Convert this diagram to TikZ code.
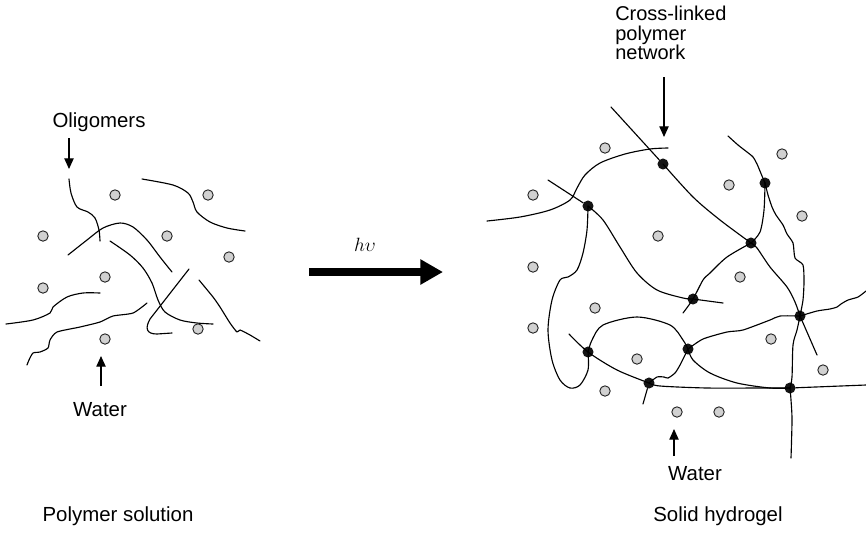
\documentclass[tikz,border=0pt]{standalone}
\usepackage{fontspec}
\setmainfont{Liberation Sans}
\usetikzlibrary{arrows.meta,positioning}
\tikzstyle{water} = [circle, draw=black!85, fill=black!18, line width=0.7pt, minimum size=7.8pt, inner sep=0pt]
\tikzstyle{link} = [circle, fill=black!92, minimum size=8.3pt, inner sep=0pt]
\tikzstyle{chain} = [line width=0.85pt, line join=round, line cap=round]
\tikzstyle{pointer} = [line width=0.9pt, -{Triangle[length=8pt, width=7pt]}]
\tikzstyle{caption} = [font=\fontsize{15.3}{18}\selectfont, inner sep=0pt]
\tikzstyle{bigarrow} = [line width=6pt, -{Triangle[length=17pt, width=18pt]}]

\begin{document}
\begin{tikzpicture}[x=0.75pt, y=-0.75pt]
\useasboundingbox (0,0) rectangle (866,544);

% POLYMERLOESUNG - Oligomere
\draw [chain] plot[smooth] coordinates {(69,179) (71,193) (77,207) (88,212) (95,218) (99,230) (100,241)};
\draw [chain] plot[smooth] coordinates {(142,179) (173,185) (188,193) (193,202) (197,212) (210,222) (227,228) (245,231)};
\draw [chain] plot[smooth] coordinates {(68,255) (87,240) (103,228) (120,223) (133,227) (147,240) (160,257) (172,272)};
\draw [chain] plot[smooth] coordinates {(110,241) (130,255) (143,268) (152,283) (158,300) (165,312) (180,320) (197,323) (213,324)};
\draw [chain] (189,269) -- (150,319) .. controls (145,328) and (146,334) .. (157,334) -- (172,333);
\draw [chain] plot[smooth, tension=0.4] coordinates {(199,280) (213,297) (220,307) (230,323) (237,332) (240,330) (250,335) (260,341)};
\draw [chain] plot[smooth] coordinates {(6,324) (33,320) (50,313) (53,307) (67,297) (83,293) (100,293)};
\draw [chain] plot[smooth, tension=0.4] coordinates {(147,303) (133,313) (113,316) (100,322) (80,327) (57,332) (50,340) (48,348) (40,352) (33,353) (29,360) (27,365)};

% Wasser links
\foreach \p [count=\i] in {(115,195),(208,195),(43,236),(167,236),(229,257),(105,277),(43,288),(198,329),(105,339)}
  \node (wl\i) [water] at \p {};

% HYDROGEL - Vernetzungspunkte
\node (A) [link] at (663,164) {};
\node (B) [link] at (588,206) {};
\node (D) [link] at (765,183) {};
\node (E) [link] at (751,243) {};
\node (F) [link] at (693,299) {};
\node (G) [link] at (588,352) {};
\node (H) [link] at (688,349) {};
\node (I) [link] at (649,383) {};
\node (J) [link] at (800,316) {};
\node (K) [link] at (790,388) {};

% Ketten im Netzwerk
\draw [chain] plot[smooth] coordinates {(487,221) (520,217) (550,210) (570,200) (577,188) (585,175) (600,163) (625,154) (650,149) (668,148)};
\draw [chain] (548,180) -- (B);
\draw [chain] (611,107) -- (A);
\draw [chain] plot[smooth] coordinates {(A) (693,197) (720,220) (E)};
\draw [chain] plot[smooth] coordinates {(E) (760,232) (764,210) (D)};
\draw [chain] plot[smooth, tension=0.4] coordinates {(728,136) (738,145) (747,152) (753,157) (757,164) (762,176) (D)};
\draw [chain] plot[smooth, tension=0.4] coordinates {(D) (768,195) (772,207) (776,215) (783,225) (787,234) (793,243) (795,258) (803,265) (804,282) (803,300) (J)};
\draw [chain] plot[smooth] coordinates {(E) (757,248) (770,267) (787,287) (795,302) (J)} -- (817,355);
\draw [chain] plot[smooth, tension=0.4] coordinates {(J) (817,311) (830,309) (837,307) (841,304) (848,300) (858,297) (866,291)};
\draw [chain] plot[smooth, tension=0.4] coordinates {(J) (780,316) (770,320) (743,330) (727,332) (703,339) (H)};
\draw [chain] plot[smooth] coordinates {(J) (797,330) (793,345) (792,377) (K)};
\draw [chain] (K) -- (866,385);
\draw [chain] plot[smooth] coordinates {(K) (791,400) (792,420) (791,458)};
\draw [chain] plot[smooth] coordinates {(I) (660,386) (707,388) (760,388) (K)};
\draw [chain] plot[smooth] coordinates {(H) (693,360) (710,373) (737,383) (770,388) (K)};
\draw [chain] plot[smooth, tension=0.4] coordinates {(I) (657,377) (664,377) (668,378) (675,373) (680,365) (H)};
\draw [chain] (I) -- (643,404);
\draw [chain] plot[smooth] coordinates {(569,334) (G) (617,370) (I)};
\draw [chain] plot[smooth] coordinates {(G) (592,340) (603,325) (637,317) (670,325) (683,340) (H)};
\draw [chain] plot[smooth] coordinates {(B) (587,230) (583,253) (577,270) (568,277) (560,280) (552,300) (548,330) (552,360) (560,380) (570,388) (580,385) (588,370) (G)};
\draw [chain] plot[smooth] coordinates {(B) (603,220) (620,247) (637,273) (657,290) (683,298) (F)} -- (723,303);
\draw [chain] plot[smooth] coordinates {(683,313) (F) (703,280) (710,273) (727,257) (E)};

% Wasser rechts
\foreach \p [count=\i] in {(605,148),(533,195),(782,154),(729,185),(802,216),(658,236),(533,267),(740,277),(595,308),(533,328),(771,339),(637,359),(823,370),(605,391),(677,412),(719,412)}
  \node (wr\i) [water] at \p {};

% Beschriftung
\node (oligo) [caption] at (99,122) {Oligomers};
\node (waterL) [caption] at (100,410) {Water};
\node (waterR) [caption] at (695,474) {Water};
\node (net) [caption, align=left, anchor=north west, font=\fontsize{15}{14.5}\selectfont] at (615,6) {Cross-linked\\polymer\\network};
\node (sol) [caption] at (118,516) {Polymer solution};
\node (gel) [caption] at (718,516) {Solid hydrogel};
\node (hv) [caption] at (365,245) {$h\upsilon$};

% PFEILE
\coordinate (oligotail) at (69,138);
\coordinate (oligohead) at (69,169);
\coordinate (waterLtail) at (101,386);
\coordinate (waterLhead) at (101,356);
\coordinate (waterRtail) at (674,456);
\coordinate (waterRhead) at (674,429);
\coordinate (nettail) at (664,77);
\coordinate (nethead) at (664,137);
\coordinate (hvtail) at (309,272);
\coordinate (hvhead) at (443,272);
\draw [pointer] (oligotail) -- (oligohead);
\draw [pointer] (waterLtail) -- (waterLhead);
\draw [pointer] (waterRtail) -- (waterRhead);
\draw [pointer] (nettail) -- (nethead);
\draw [bigarrow] (hvtail) -- (hvhead);

\end{tikzpicture}
\end{document}
